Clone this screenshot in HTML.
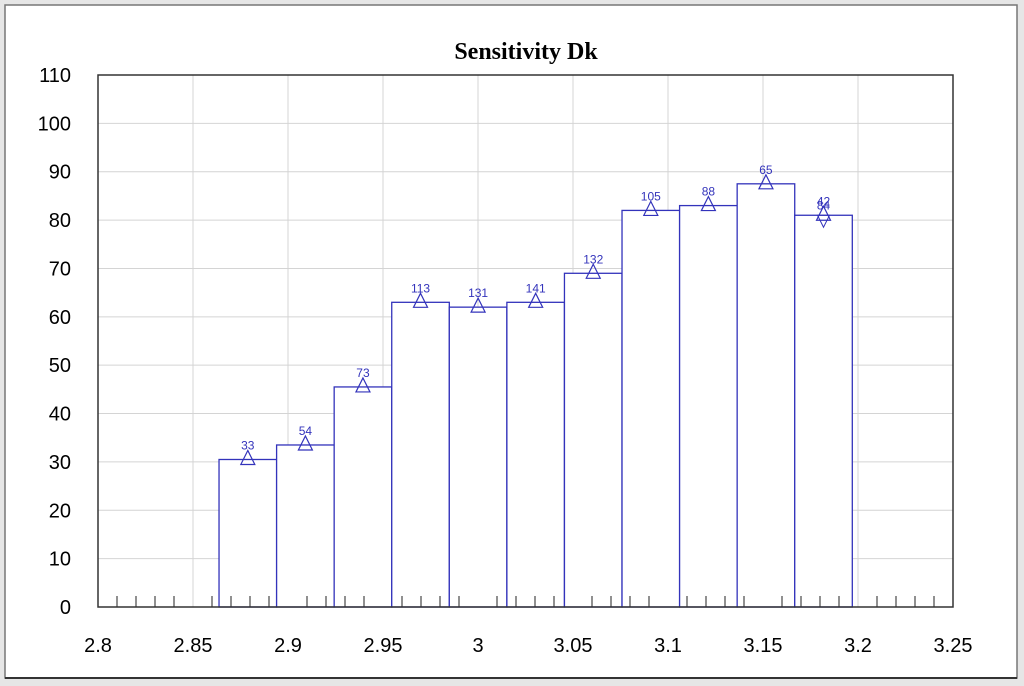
<!DOCTYPE html>
<html><head><meta charset="utf-8"><style>
body{margin:0;background:#e8e8e8;}
svg{display:block;font-family:"Liberation Sans",sans-serif;}
</style></head><body>
<svg width="1024" height="686">
<rect x="0" y="0" width="1024" height="686" fill="#e6e6e6"/>
<rect x="5" y="5" width="1012" height="673" fill="#fff" stroke="#777" stroke-width="1.5"/>
<line x1="5" y1="678" x2="1017" y2="678" stroke="#333" stroke-width="2"/>
<text x="526" y="59" text-anchor="middle" font-family="Liberation Serif" font-weight="bold" font-size="24">Sensitivity Dk</text>
<g id="grid"></g><g id="bars"></g><g id="axes"></g>
</svg>
<script>
const xTicks=[2.8,2.85,2.9,2.95,3,3.05,3.1,3.15,3.2,3.25];
const xTickLabels=["2.8","2.85","2.9","2.95","3","3.05","3.1","3.15","3.2","3.25"];
const yTicks=[0,10,20,30,40,50,60,70,80,90,100,110];
const binStart=2.8637, binWidth=0.0303;
const values=[30.5,33.5,45.5,63,62,63,69,82,83,87.5,81];
const counts=["33","54","73","113","131","141","132","105","88","65","42"];
const L=98,R=953,T=75,B=607;
const sx=v=>L+(v-2.8)/(0.45)*(R-L);
const sy=v=>B-v/110*(B-T);
const NS="http://www.w3.org/2000/svg";
function mk(p,tag,a,txt){const e=document.createElementNS(NS,tag);for(const k in a)e.setAttribute(k,a[k]);if(txt!==undefined)e.textContent=txt;p.appendChild(e);return e;}
const g=document.getElementById('grid'),b=document.getElementById('bars'),ax=document.getElementById('axes');
yTicks.forEach(v=>{if(v>0){const l=mk(g,'line',{x1:L,x2:R,y1:sy(v),y2:sy(v),stroke:'#d4d4d4'});

}
const t=mk(ax,'text',{x:L-27,y:sy(v)+7,'text-anchor':'end','font-size':20},String(v));

});
xTicks.forEach((v,i)=>{if(i>0&&i<xTicks.length-1){const l=mk(g,'line',{x1:sx(v),x2:sx(v),y1:T,y2:B,stroke:'#d4d4d4'});

}
const t=mk(ax,'text',{x:sx(v),y:652,'text-anchor':'middle','font-size':20},xTickLabels[i]);

});
for(let k=1;k<45;k++){if(k%5===0)continue;const x=sx(2.8+k*0.01);const l=mk(ax,'line',{x1:x,x2:x,y1:B,y2:B-11,stroke:'#222'});

}
values.forEach((v,i)=>{const x0=sx(binStart+i*binWidth),x1=sx(binStart+(i+1)*binWidth);
const r=mk(b,'rect',{x:x0,y:sy(v),width:x1-x0,height:B-sy(v),fill:'#fff',stroke:'#3333bb','stroke-width':1.3});


const cx=(x0+x1)/2,cy=sy(v);
const tri=mk(b,'polygon',{points:`${cx},${cy-9} ${cx-7},${cy+5} ${cx+7},${cy+5}`,fill:'none',stroke:'#3333bb','stroke-width':1.2});


const t=mk(b,'text',{x:cx,y:cy-10,'text-anchor':'middle','font-size':12,fill:'#3333bb'},counts[i]);


if(i===values.length-1){const t2=mk(b,'text',{x:cx,y:cy-6,'text-anchor':'middle','font-size':12,fill:'#3333bb'},'84');


const d=mk(b,'polygon',{points:`${cx},${cy+12} ${cx-6},${cy} ${cx+6},${cy}`,fill:'none',stroke:'#3333bb'});

}});
const f=mk(ax,'rect',{x:L,y:T,width:R-L,height:B-T,fill:'none',stroke:'#333','stroke-width':1.5});


</script>
</body></html>
